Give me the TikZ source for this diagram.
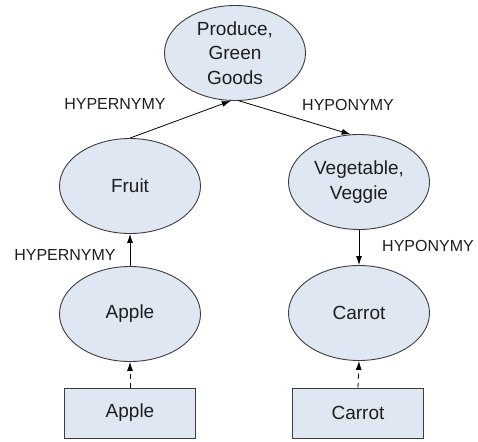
\documentclass[tikz,border=0pt]{standalone}
\usepackage{fontspec}
\setmainfont{Liberation Sans}
\usetikzlibrary{arrows.meta,shapes.geometric}
\definecolor{nodefill}{HTML}{DFE7F3}
\definecolor{nodeline}{HTML}{3C3C3C}
\definecolor{inktext}{HTML}{1E1E1E}
\tikzset{
  concept/.style={ellipse, draw=nodeline, fill=nodefill, line width=0.9pt,
    minimum width=141pt, minimum height=95pt, inner sep=0pt, align=center,
    text=inktext, font=\fontsize{19}{24.5}\selectfont},
  word/.style={rectangle, draw=nodeline, fill=nodefill, line width=0.9pt,
    minimum width=131pt, minimum height=50pt, inner sep=0pt,
    text=inktext, font=\fontsize{19}{24.5}\selectfont},
  rel/.style={text=inktext, font=\fontsize{16}{18}\selectfont, inner sep=0pt},
  link/.style={draw=black, line width=0.8pt, -{Latex[length=9pt,width=6pt]}},
  lexlink/.style={link, dashed, dash pattern=on 5pt off 4pt}
}
\begin{document}
\begin{tikzpicture}[x=1pt,y=-1pt]
  \useasboundingbox (0,0) rectangle (478,441);
  % concept ellipses
  \node[concept] (produce) at (235,53) {Produce,\\Green\\Goods};
  \node[concept] (fruit) at (130,186) {Fruit};
  \node[concept] (veg) at (359,182) {Vegetable,\\Veggie};
  \node[concept] (apple) at (130,314) {Apple};
  \node[concept] (carrot) at (359,313) {Carrot};
  % word boxes
  \node[word] (applew) at (130,413) {Apple};
  \node[word] (carrotw) at (358,413) {Carrot};
  % relations
  \draw[link] (fruit.north) -- (produce.265);
  \draw[link] (produce.275) -- (veg.100);
  \draw[link] (apple.north) -- (fruit.south);
  \draw[link] (veg.south) -- (carrot.north);
  \draw[lexlink] (applew.north) -- (apple.south);
  \draw[lexlink] (carrotw.north) -- (carrot.south);
  % relation labels
  \node[rel] (l1) at (115,104) {HYPERNYMY};
  \node[rel] (l2) at (348,105) {HYPONYMY};
  \node[rel] (l3) at (65,255) {HYPERNYMY};
  \node[rel] (l4) at (428,246) {HYPONYMY};
\end{tikzpicture}
\end{document}
